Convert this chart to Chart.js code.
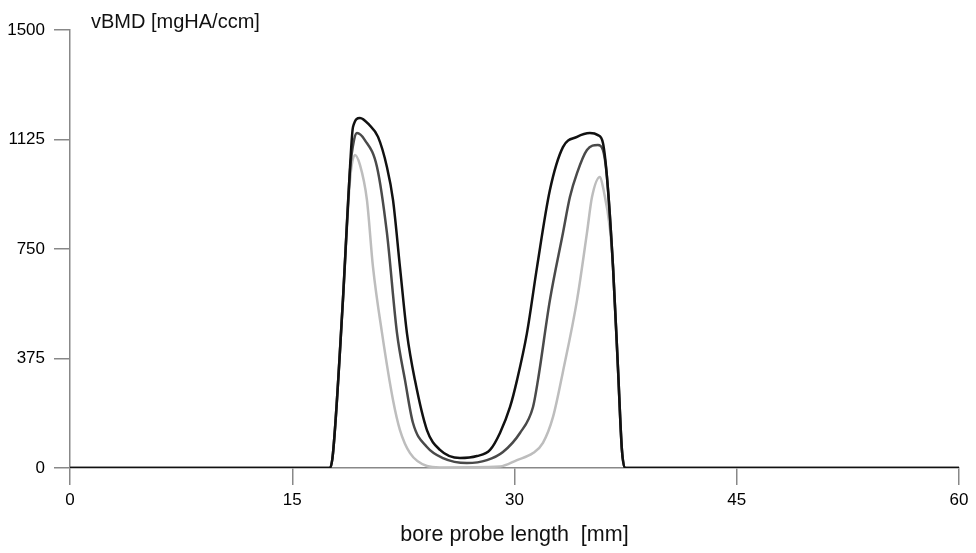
<!DOCTYPE html>
<html>
<head>
<meta charset="utf-8">
<script src="https://cdn.jsdelivr.net/npm/chart.js@4"></script>
<style>
html,body{margin:0;padding:0;background:#fff;}
#wrap{width:976px;height:553px;position:relative;}
</style>
</head>
<body>
<div id="wrap"><canvas id="c" width="976" height="553"></canvas></div>
<script>
// x positions in mm and vBMD values in mgHA/ccm
const blackX = [0, 17.55, 17.75, 18.42, 18.9, 19.1, 19.57, 20.2, 20.79, 21.39, 21.8, 22.27, 22.74, 23.28, 24.09, 24.97, 26.32, 27.47, 28.35, 29.02, 29.7, 30.17, 30.84, 31.52, 32.39, 33.27, 34.22, 35.09, 35.63, 35.97, 36.24, 36.65, 36.98, 37.25, 37.46, 60];
const blackY = [0, 0, 51, 575, 1031, 1168, 1199, 1175, 1134, 1031, 918, 688, 462, 301, 130, 62, 34, 41, 62, 120, 209, 301, 462, 688, 952, 1099, 1134, 1147, 1140, 1113, 997, 688, 346, 62, 0, 0];

const darkX = [0, 17.55, 17.75, 18.42, 18.9, 19.17, 19.37, 19.9, 20.72, 21.39, 22.07, 22.61, 23.15, 24.09, 25.17, 26.79, 28.14, 29.22, 30.37, 31.25, 31.58, 32.39, 33.27, 33.74, 34.22, 34.89, 35.63, 35.97, 36.24, 36.65, 36.98, 37.25, 37.46, 60];
const darkY = [0, 0, 51, 575, 1020, 1123, 1147, 1123, 1031, 805, 462, 301, 154, 72, 34, 17, 27, 55, 120, 209, 300, 575, 805, 928, 1010, 1089, 1106, 1089, 997, 688, 346, 62, 0, 0];

const lightX = [0, 17.55, 17.75, 18.42, 18.9, 19.23, 19.57, 20.04, 20.45, 21.06, 21.8, 22.27, 22.95, 24.09, 24.97, 29.02, 30.17, 31.25, 31.92, 32.6, 33.27, 34.22, 34.89, 35.23, 35.77, 35.97, 36.45, 36.65, 36.98, 37.25, 37.46, 60];
const lightY = [0, 0, 51, 575, 986, 1072, 1038, 918, 688, 462, 233, 130, 51, 7, 2, 5, 27, 51, 86, 175, 330, 575, 805, 928, 997, 962, 815, 688, 346, 62, 0, 0];

const xTicks = [0, 15, 30, 45, 60];
const yTicks = [0, 375, 750, 1125, 1500];
const yTitle = 'vBMD [mgHA/ccm]';
const xTitle = 'bore probe length  [mm]';

const pts = (xs, ys) => xs.map((x, i) => ({x: x, y: ys[i]}));

const topTitle = {
  id: 'topTitle',
  afterDraw(chart) {
    const ctx = chart.ctx;
    ctx.save();
    ctx.font = '20px "Liberation Sans", Arial, sans-serif';
    ctx.fillStyle = '#111';
    ctx.textBaseline = 'middle';
    ctx.textAlign = 'left';
    ctx.fillText(yTitle, chart.chartArea.left + 21, 22);
    ctx.restore();
  }
};

const axisColor = '#888';
const tickFont = {family: '"Liberation Sans", Arial, sans-serif', size: 17};
new Chart(document.getElementById('c'), {
  type: 'line',
  data: {
    datasets: [
      {data: pts(lightX, lightY), borderColor: '#bdbdbd', borderWidth: 2.5, pointRadius: 0, cubicInterpolationMode: 'monotone', order: 3},
      {data: pts(darkX, darkY), borderColor: '#4a4a4a', borderWidth: 2.5, pointRadius: 0, cubicInterpolationMode: 'monotone', order: 2},
      {data: pts(blackX, blackY), borderColor: '#111', borderWidth: 2.5, pointRadius: 0, cubicInterpolationMode: 'monotone', order: 1}
    ]
  },
  options: {
    responsive: false,
    animation: false,
    layout: {padding: {left: 0, right: 17, top: 30, bottom: 0}},
    plugins: {legend: {display: false}, tooltip: {enabled: false}},
    scales: {
      x: {
        type: 'linear', min: 0, max: 60,
        afterBuildTicks: s => { s.ticks = xTicks.map(v => ({value: v})); },
        afterFit: s => { s.height = 85; },
        border: {color: axisColor, width: 1.5},
        grid: {drawOnChartArea: false, drawTicks: true, tickLength: 17, color: axisColor, lineWidth: 1.5},
        ticks: {color: '#000', padding: 5, maxRotation: 0, font: tickFont, callback: v => String(v)},
        title: {display: true, text: xTitle, color: '#111', padding: {top: 0, bottom: 5}, font: {family: '"Liberation Sans", Arial, sans-serif', size: 21.5}}
      },
      y: {
        type: 'linear', min: 0, max: 1500,
        afterBuildTicks: s => { s.ticks = yTicks.map(v => ({value: v})); },
        afterFit: s => { s.width = 70; },
        border: {color: axisColor, width: 1.5},
        grid: {drawOnChartArea: false, drawTicks: true, tickLength: 16, color: axisColor, lineWidth: 1.5},
        ticks: {color: '#000', padding: 9, font: tickFont, callback: v => String(v)}
      }
    }
  },
  plugins: [topTitle]
});
</script>
</body>
</html>
